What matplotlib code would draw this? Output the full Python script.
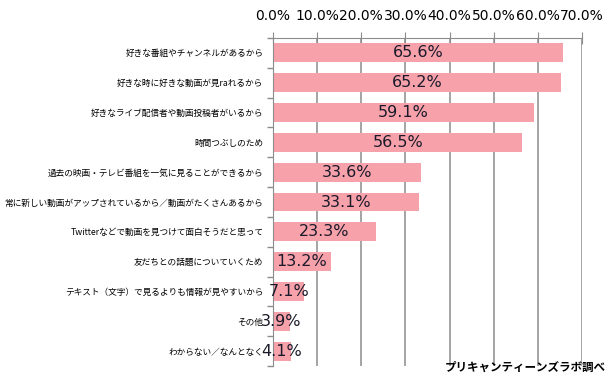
import numpy as np
import matplotlib
matplotlib.use('Agg')
import matplotlib.pyplot as plt
from matplotlib.ticker import FixedLocator

plt.rcParams['font.family'] = ['Noto Sans CJK JP', 'DejaVu Sans']

# Data
categories = [
    '好きな番組やチャンネルがあるから',
    '好きな時に好きな動画が見raれるから',
    '好きなライブ配信者や動画投稿者がいるから',
    '時間つぶしのため',
    '過去の映画・テレビ番組を一気に見ることができるから',
    '常に新しい動画がアップされているから／動画がたくさんあるから',
    'Twitterなどで動画を見つけて面白そうだと思って',
    '友だちとの話題についていくため',
    'テキスト（文字）で見るよりも情報が見やすいから',
    'その他',
    'わからない／なんとなく',
]
values = [65.6, 65.2, 59.1, 56.5, 33.6, 33.1, 23.3, 13.2, 7.1, 3.9, 4.1]
x_ticks = [0, 10, 20, 30, 40, 50, 60, 70]
source_note = 'プリキャンティーンズラボ調べ'

BAR_COLOR = '#F7A1AA'
GRID_COLOR = '#8C8C8C'

fig = plt.figure(figsize=(6.12, 3.83), dpi=100)
ax = fig.add_axes([0.446, 0.044, 0.505, 0.857])

y = np.arange(len(categories))
ax.barh(y, values, height=0.63, color=BAR_COLOR, zorder=2)

# value labels centred in each bar
for yi, v in zip(y, values):
    ax.text(v / 2, yi, f'{v:.1f}%', ha='center', va='center',
            fontsize=11.5, color='#1A1A2A', family='DejaVu Sans', zorder=3)

ax.set_xlim(0, 70)
ax.set_ylim(len(categories) - 0.5, -0.5)

# x axis on top
ax.xaxis.tick_top()
ax.set_xticks(x_ticks)
ax.set_xticklabels([f'{t:.1f}%' for t in x_ticks], family='DejaVu Sans', fontsize=10)
ax.tick_params(axis='x', direction='inout', length=9, color=GRID_COLOR, pad=6)
ax.xaxis.grid(True, color=GRID_COLOR, linewidth=1.1, zorder=1)

# category labels, separator ticks at boundaries
ax.set_yticks(y)
ax.set_yticklabels(categories, fontsize=6.25)
ax.tick_params(axis='y', which='major', length=0, pad=7)
ax.yaxis.set_minor_locator(FixedLocator(np.arange(-0.5, len(categories), 1.0)))
ax.tick_params(axis='y', which='minor', length=4, color=GRID_COLOR, width=1)

for side in ['right', 'bottom']:
    ax.spines[side].set_visible(False)
ax.spines['top'].set_color(GRID_COLOR)
ax.spines['left'].set_color(GRID_COLOR)
ax.set_axisbelow(True)

fig.text(0.99, 0.025, source_note, ha='right', va='bottom', fontsize=8.3,
         fontweight='bold')

fig.savefig('out.png', dpi=100)
